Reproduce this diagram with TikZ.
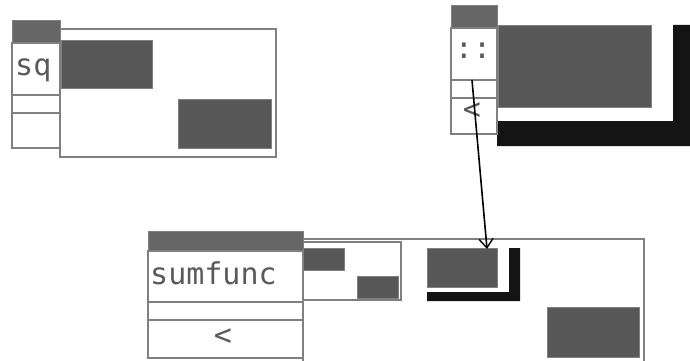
\documentclass[tikz,border=0pt]{standalone}
\usepackage{fontspec}
\setmonofont{DejaVu Sans Mono}
\usetikzlibrary{arrows.meta}
\definecolor{hdrc}{RGB}{102,102,102}
\definecolor{darkc}{RGB}{88,88,88}
\definecolor{edgec}{RGB}{128,128,128}
\definecolor{blkc}{RGB}{20,20,20}
\definecolor{txtc}{RGB}{90,90,90}
\tikzset{
  cell/.style={draw=edgec, line width=1.3pt, fill=white, anchor=north west, inner sep=0pt, outer sep=0pt},
  hdr/.style={fill=hdrc, draw=edgec, line width=1pt, anchor=north west, inner sep=0pt, outer sep=0pt},
  darkbox/.style={fill=darkc, draw=edgec, line width=0.8pt, anchor=north west, inner sep=0pt, outer sep=0pt},
  blk/.style={fill=blkc, draw=none},
  lbl/.style={font=\ttfamily\fontsize{30}{32}\selectfont, text=txtc, inner sep=0pt},
  conn/.style={draw=black, line width=1.6pt, -{Straight Barb[length=9pt,width=14pt,line width=1.4pt]}}
}
\newcommand{\bx}[6]{\node[#1, minimum width=#4pt, minimum height=#5pt] (#2) at #3 {#6};}
\begin{document}
\begin{tikzpicture}[x=1pt,y=-1pt]
\useasboundingbox[fill=white] (0,0) rectangle (690,361);
% ---------- top-left: sq ----------
\bx{cell}{sqframe}{(60,29)}{216}{128}{}
\bx{darkbox}{sqd1}{(61,40)}{91}{48}{}
\bx{darkbox}{sqd2}{(178,99)}{93}{49}{}
\bx{hdr}{sqhdr}{(12,21)}{48}{22}{}
\bx{cell}{sqlab}{(12,43)}{48}{52}{}
\bx{cell}{sqrow}{(12,95)}{48}{18}{}
\bx{cell}{sqbot}{(12,113)}{48}{35}{}
\node[lbl, anchor=base west] (sqtext) at (15,75) {sq};
% ---------- top-right: :: ----------
\fill[blk] (673,25) -- (695,25) -- (695,146) -- (497,146) -- (497,121) -- (673,121) -- cycle;
\bx{darkbox}{ccd}{(498,25)}{153}{82}{}
\bx{hdr}{cchdr}{(451,6)}{46}{22}{}
\bx{cell}{cclab}{(451,28)}{46}{52}{}
\bx{cell}{ccrow}{(451,80)}{46}{18}{}
\bx{cell}{ccbot}{(451,98)}{46}{36}{}
\node[lbl, anchor=base] (cctext) at (473,59) {::};
\node[lbl, anchor=center] (cclt) at (472,111) {<};
% ---------- bottom: sumfunc ----------
\bx{cell}{sfframe}{(303,239)}{341}{140}{}
\bx{cell}{sfsmall}{(303,242)}{98}{58}{}
\bx{darkbox}{sfs1}{(303,248)}{41}{22}{}
\bx{darkbox}{sfs2}{(357,276)}{41}{22}{}
\fill[blk] (509,248) -- (520,248) -- (520,301) -- (427,301) -- (427,292) -- (509,292) -- cycle;
\bx{darkbox}{sfd1}{(427,248)}{70}{39}{}
\bx{darkbox}{sfd2}{(547,307)}{92}{50}{}
\bx{hdr}{sfhdr}{(148,231)}{155}{20}{}
\bx{cell}{sflab}{(148,251)}{155}{51}{}
\bx{cell}{sfrow}{(148,302)}{155}{18}{}
\bx{cell}{sfbot}{(148,320)}{155}{38}{}
\node[lbl, anchor=base west] (sftext) at (150,284) {sumfunc};
\node[lbl, anchor=center] (sflt) at (223,337) {<};
% ---------- connector ----------
\coordinate (src) at (472,80);
\coordinate (tgt) at (487,249);
\draw[conn] (src) -- (tgt);
\end{tikzpicture}
\end{document}
